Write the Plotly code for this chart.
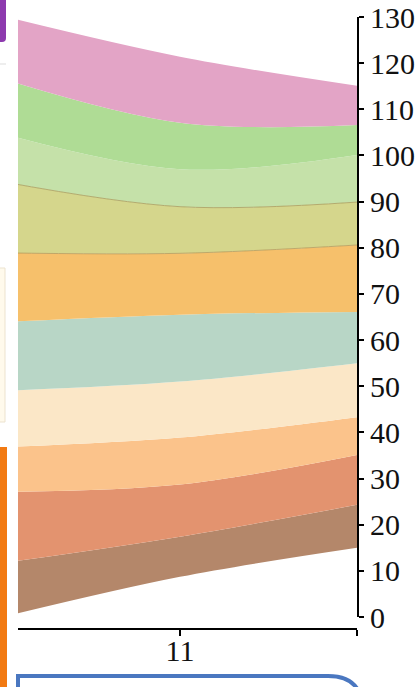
import plotly.graph_objects as go

# ---- data ----
x_vals = [10, 11, 12]
baseline = [0.0, 8.7, 15.0]
series_names = ["S1", "S2", "S3", "S4", "S5", "S6", "S7", "S8", "S9", "S10"]
s1 = [11.7, 8.7, 9.3]
s2 = [15.4, 11.3, 10.8]
s3 = [9.7, 10.2, 8.2]
s4 = [12.2, 12.1, 11.7]
s5 = [14.9, 14.5, 11.1]
s6 = [15.0, 13.3, 14.5]
s7 = [15.4, 10.1, 9.3]
s8 = [10.4, 8.1, 10.2]
s9 = [11.9, 10.1, 6.5]
s10 = [13.6, 14.3, 8.5]
y_ticks = [0, 10, 20, 30, 40, 50, 60, 70, 80, 90, 100, 110, 120, 130]
x_ticks = [11, 12]
x_ticktext = ["11", ""]

series = [s1, s2, s3, s4, s5, s6, s7, s8, s9, s10]
colors = ["#b4876a", "#e3936f", "#fbc38b", "#fbe7c7", "#b8d6c6",
          "#f6c06b", "#d5d68c", "#c5e1a9", "#afdc95", "#e3a4c6"]
edge = {5: "#b59a5c", 6: "#a99c5c"}

SERIF = "Liberation Serif"

fig = go.Figure()
fig.add_trace(go.Scatter(x=x_vals, y=baseline, mode="lines",
                         line=dict(width=0, shape="spline"),
                         showlegend=False, hoverinfo="skip"))
cum = list(baseline)
for i, (name, vals) in enumerate(zip(series_names, series)):
    cum = [c + v for c, v in zip(cum, vals)]
    lw = 0.8 if i in edge else 0
    fig.add_trace(go.Scatter(
        x=x_vals, y=cum, name=name, mode="lines",
        line=dict(width=lw, color=edge.get(i, colors[i]), shape="spline"),
        fill="tonexty", fillcolor=colors[i], showlegend=False))

# pixel helpers for the page decorations around the cropped chart
L, R, T, B, Y0 = 18, 357, 17, 629, 617
def px(v):
    return (v - L) / (R - L)
def py(v):
    return (B - v) / (B - T)

shapes = [
    dict(type="path", xref="paper", yref="paper",
         path=f"M {px(0)},{py(0)} L {px(6)},{py(0)} L {px(6)},{py(38)} Q {px(6)},{py(42)} {px(2)},{py(42)} L {px(0)},{py(42)} Z",
         fillcolor="#8d3aae", line=dict(width=0)),
    dict(type="line", xref="paper", yref="paper", x0=px(0), x1=px(6), y0=py(64), y1=py(64),
         line=dict(color="#dddddd", width=1)),
    dict(type="rect", xref="paper", yref="paper", x0=px(-2), x1=px(5), y0=py(422), y1=py(268),
         fillcolor="#fffaec", line=dict(color="#ece3cf", width=1)),
    dict(type="rect", xref="paper", yref="paper", x0=px(0), x1=px(7), y0=py(690), y1=py(447),
         fillcolor="#f27a12", line=dict(width=0)),
    dict(type="path", xref="paper", yref="paper",
         path=f"M {px(18)},{py(700)} L {px(18)},{py(676)} L {px(328)},{py(676)} Q {px(350)},{py(676)} {px(358)},{py(690)}",
         line=dict(color="#4a77c0", width=4)),
]

fig.update_layout(
    width=415, height=687,
    margin=dict(l=L, r=415 - R, t=T, b=687 - B, pad=0, autoexpand=False),
    paper_bgcolor="white", plot_bgcolor="white",
    font=dict(family=SERIF, size=30, color="black"),
    shapes=shapes,
    xaxis=dict(range=[10.085, 12], tickvals=x_ticks, ticktext=x_ticktext,
               ticks="outside", ticklen=6, tickwidth=2, tickcolor="black",
               showline=True, linecolor="black", linewidth=2,
               showgrid=False, zeroline=False, anchor="free", position=0,
               automargin=False, ticklabelstandoff=-11,
               tickfont=dict(family=SERIF, size=30, color="#111")),
    yaxis=dict(domain=[(B - Y0) / (B - T), 1], range=[0, 130], tickvals=y_ticks,
               side="right", ticks="outside", ticklen=5, tickwidth=2, tickcolor="black",
               showline=True, linecolor="black", linewidth=2,
               showgrid=False, zeroline=False, automargin=False,
               tickfont=dict(family=SERIF, size=30, color="#111")),
)

fig.write_html("out.html",
               config={"displayModeBar": False},
               post_script="document.body.style.margin='0';document.body.style.padding='0';")
